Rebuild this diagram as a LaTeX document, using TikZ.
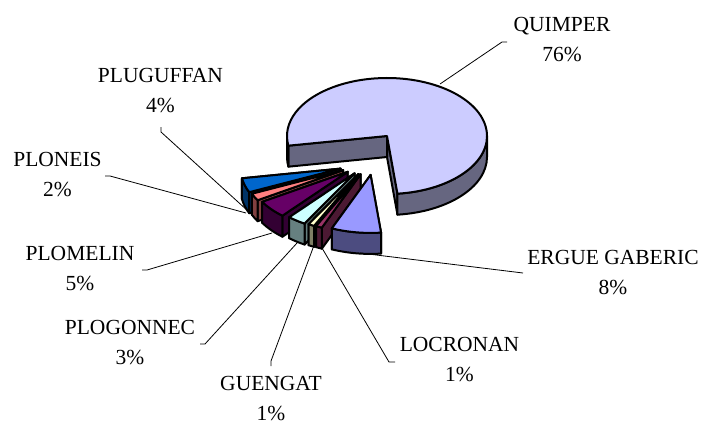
\documentclass[tikz,border=0pt]{standalone}
\usepackage{fontspec}
\setmainfont{Liberation Serif}
\usetikzlibrary{calc}

\definecolor{ergue}{HTML}{9999FF}
\definecolor{locronan}{HTML}{993366}
\definecolor{guengat}{HTML}{FFFFCC}
\definecolor{plogonnec}{HTML}{CCFFFF}
\definecolor{plomelin}{HTML}{660066}
\definecolor{ploneis}{HTML}{FF8080}
\definecolor{pluguffan}{HTML}{0066CC}
\definecolor{quimper}{HTML}{CCCCFF}

\newcommand{\pieface}[3]{\filldraw[fill=#3!50!black] (#1) -- ($(#1)+(#2:100pt and 58pt)$) -- ++(0,21) -- ($(#1)+(0,21)$) -- cycle;}
\newcommand{\piewall}[4]{\filldraw[fill=#4!50!black] ($(#1)+(#2:100pt and 58pt)$) arc[start angle=#2, end angle=#3, x radius=100pt, y radius=58pt] -- ++(0,21) arc[start angle=#3, end angle=#2, x radius=100pt, y radius=58pt] -- cycle;}
\newcommand{\pietop}[4]{\filldraw[fill=#4] (#1) -- ($(#1)+(#2:100pt and 58pt)$) arc[start angle=#2, end angle=#3, x radius=100pt, y radius=58pt] -- cycle;}
\newcommand{\pieslice}[4]{\pieface{#1}{#2}{#4}\pieface{#1}{#3}{#4}\piewall{#1}{#2}{#3}{#4}\pietop{#1}{#2}{#3}{#4}}

\begin{document}
\begin{tikzpicture}[x=1pt, y=-1pt, line join=round]
	\tikzset{every node/.style={align=center, inner sep=0pt, anchor=north, font=\fontsize{21.5}{30}\selectfont}}
	\useasboundingbox (0,0) rectangle (701,426);
	\coordinate (centre) at (376,166);
	\coordinate (quimper) at (387,136);
	\coordinate (pluguffan) at ($(centre)+(196.8:37pt and 9pt)$);
	\coordinate (ploneis) at ($(centre)+(207.6:37pt and 9pt)$);
	\coordinate (plomelin) at ($(centre)+(220.2:37pt and 9pt)$);
	\coordinate (plogonnec) at ($(centre)+(234.6:37pt and 9pt)$);
	\coordinate (guengat) at ($(centre)+(241.8:37pt and 9pt)$);
	\coordinate (locronan) at ($(centre)+(245.4:37pt and 9pt)$);
	\coordinate (ergue) at ($(centre)+(261.6:37pt and 9pt)$);
	\begin{scope}[line width=2pt]
	\pieface{quimper}{-84}{quimper}
	\pieface{quimper}{189.6}{quimper}
	\piewall{quimper}{-84}{0}{quimper}
	\piewall{quimper}{180}{189.6}{quimper}
	\pietop{quimper}{-84}{189.6}{quimper}
	\pieslice{pluguffan}{189.6}{204}{pluguffan}
	\pieslice{ploneis}{204}{211.2}{ploneis}
	\pieslice{plomelin}{211.2}{229.2}{plomelin}
	\pieslice{plogonnec}{229.2}{240}{plogonnec}
	\pieslice{guengat}{240}{243.6}{guengat}
	\pieslice{locronan}{243.6}{247.2}{locronan}
	\pieslice{ergue}{247.2}{276}{ergue}
	\end{scope}
	\node (lquimper) at (562,17.5) {QUIMPER\\76\%};
	\node (lpluguffan) at (160.5,67.8) {PLUGUFFAN\\4\%};
	\node (lploneis) at (57.5,151.8) {PLONEIS\\2\%};
	\node (lplomelin) at (80,245.8) {PLOMELIN\\5\%};
	\node (lplogonnec) at (130,319.8) {PLOGONNEC\\3\%};
	\node (lguengat) at (271,376.5) {GUENGAT\\1\%};
	\node (llocronan) at (459.5,337.5) {LOCRONAN\\1\%};
	\node (lergue) at (613,249.8) {ERGUE GABERIC\\8\%};
	\coordinate (kquimper) at (507,42);
	\coordinate (kpluguffan) at (161,127);
	\coordinate (kploneis) at (105,176);
	\coordinate (kplomelin) at (142,270);
	\coordinate (kplogonnec) at (200,344);
	\coordinate (kguengat) at (271,366);
	\coordinate (klocronan) at (395,362);
	\coordinate (tquimper) at (502,42);
	\coordinate (tpluguffan) at (161,132);
	\coordinate (tploneis) at (110,176);
	\coordinate (tplomelin) at (147,270);
	\coordinate (tplogonnec) at (205,344);
	\coordinate (tguengat) at (271,361);
	\coordinate (tlocronan) at (389,362);
	\coordinate (equimper) at (440,84);
	\coordinate (epluguffan) at (248,211);
	\coordinate (eploneis) at (246,213);
	\coordinate (eplomelin) at (272,233);
	\coordinate (eplogonnec) at (297,243);
	\coordinate (eguengat) at (313,248);
	\coordinate (elocronan) at (322,248);
	\coordinate (eergue) at (360,253);
	\coordinate (kergue) at (523,273);
	\begin{scope}[line width=0.8pt]
	\draw (kquimper) -- (tquimper) -- (equimper);
	\draw (kpluguffan) -- (tpluguffan) -- (epluguffan);
	\draw (kploneis) -- (tploneis) -- (eploneis);
	\draw (kplomelin) -- (tplomelin) -- (eplomelin);
	\draw (kplogonnec) -- (tplogonnec) -- (eplogonnec);
	\draw (kguengat) -- (tguengat) -- (eguengat);
	\draw (klocronan) -- (tlocronan) -- (elocronan);
	\draw (kergue) -- (eergue);
	\end{scope}
\end{tikzpicture}
\end{document}
